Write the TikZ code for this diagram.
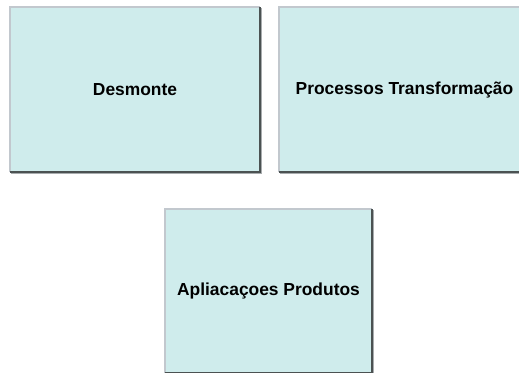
\documentclass[tikz,border=0pt]{standalone}
\usepackage{fontspec}
\setmainfont{Liberation Sans}
\definecolor{caixa}{HTML}{CFECEC}
\definecolor{luzcor}{HTML}{C2C8CE}
\definecolor{sombracor}{HTML}{4B5252}
\definecolor{orlacor}{HTML}{A8ACAE}
\begin{document}
\begin{tikzpicture}[x=1pt,y=-1pt,
        bloco/.style={rectangle,fill=caixa,inner sep=0pt,font=\fontsize{17.4}{20}\selectfont\bfseries},
        luz/.style={draw=luzcor,line width=2pt},
        sombra/.style={draw=sombracor,line width=2pt},
        orla/.style={draw=orlacor,line width=1pt}
      ]
      \clip (0,0) rectangle (519,372);
      \node[bloco,minimum width=250pt,minimum height=165pt] (dm) at (135,89.5) {Desmonte};
      \node[bloco,minimum width=251pt,minimum height=165pt] (pt) at (404.5,89.5) {Processos Transformação};
      \node[bloco,minimum width=207pt,minimum height=164pt] (ap) at (268.5,291) {Apliacaçoes Produtos};
      % relevo das caixas: claro em cima/esquerda, escuro em baixo/direita
      \foreach \b in {dm,pt,ap} {
        \draw[luz] (\b.south west) |- (\b.north east);
        \draw[orla] ([shift={(1.5,1.5)}]\b.south west) -| ([shift={(1.5,1.5)}]\b.north east);
        \draw[sombra] (\b.south west) -| (\b.north east);
      }
    \end{tikzpicture}
\end{document}
